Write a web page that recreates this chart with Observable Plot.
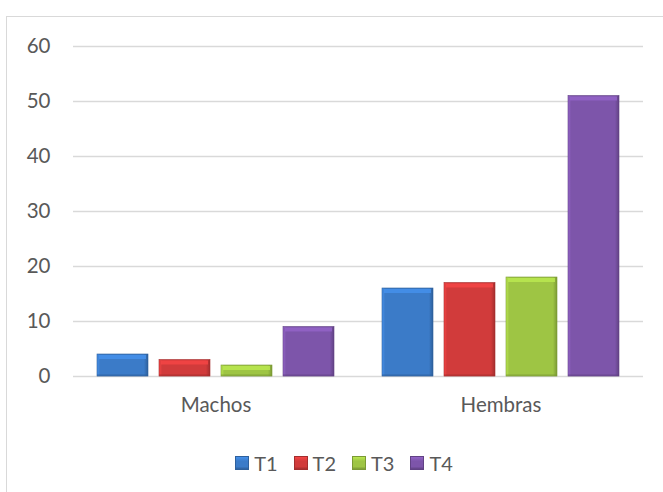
<!DOCTYPE html>
<html>
<head>
<meta charset="utf-8">
<script src="https://cdn.jsdelivr.net/npm/d3@7"></script>
<script src="https://cdn.jsdelivr.net/npm/@observablehq/plot@0.6"></script>
<style>
  html, body { margin: 0; padding: 0; background: #fff; width: 663px; height: 492px; overflow: hidden; }
  #frame { position: absolute; left: 6px; top: 16px; width: 720px; height: 520px; border: 1px solid #d9d9d9; box-sizing: border-box; }
  #chart { position: absolute; left: 0; top: 0; }
  #legend { position: absolute; left: 0; width: 688px; top: 449px; text-align: center; font-family: Lato, "Liberation Sans", sans-serif; font-size: 20px; line-height: 26px; color: #595959; }
  #legend .item { display: inline-flex; align-items: center; margin: 0 8px; }
  #legend .sw { display: inline-block; width: 14px; height: 14px; margin-right: 5px; box-sizing: border-box; }
</style>
</head>
<body>
<div id="frame"></div>
<div id="chart"></div>
<div id="legend"></div>
<script>
const categories = ["Machos", "Hembras"];
const series = ["T1", "T2", "T3", "T4"];
const machos = [4, 3, 2, 9];
const hembras = [16, 17, 18, 51];
const yTicks = [0, 10, 20, 30, 40, 50, 60];
const colors = ["#3b7bc8", "#d13b3b", "#9ec544", "#7d55aa"];

const valuesByCategory = [machos, hembras];
const data = categories.flatMap((c, i) =>
  series.map((s, j) => ({ category: c, series: s, value: valuesByCategory[i][j] }))
);

const lighter = c => d3.color(c).brighter(0.45).formatHex();
const darker = c => d3.color(c).darker(0.7).formatHex();

const marks = [
  Plot.gridY(yTicks, { stroke: "#d9d9d9", strokeOpacity: 1, strokeWidth: 1.3 })
];
series.forEach((s, j) => {
  const sub = data.filter(d => d.series === s);
  const col = colors[j];
  marks.push(
    Plot.barY(sub, { fx: "category", x: "series", y: "value", fill: `url(#grad-${s})`, stroke: darker(col), strokeWidth: 0.6 }),
    Plot.tickY(sub, { fx: "category", x: "series", y: "value", stroke: lighter(col), strokeWidth: 4, dy: 2.5, inset: 2, strokeOpacity: 0.85 }),
    Plot.tickY(sub, { fx: "category", x: "series", y: d => 0, stroke: darker(col), strokeWidth: 2, dy: -1.2, strokeOpacity: 0.45 })
  );
});

const chart = Plot.plot({
  width: 663,
  height: 430,
  marginLeft: 73,
  marginRight: 20,
  marginTop: 46,
  marginBottom: 54,
  style: { fontFamily: "Lato, 'Liberation Sans', sans-serif", fontSize: "20.5px", color: "#595959", background: "transparent", overflow: "visible" },
  fx: { domain: categories, padding: 0, label: null, tickSize: 0, tickPadding: 21, axis: "bottom" },
  x: { domain: series, axis: null, paddingInner: 0.18, paddingOuter: 0.38 },
  y: { domain: [0, 60], ticks: yTicks, label: null, tickSize: 0, tickPadding: 23 },
  marks
});

// gradients for beveled bars
const svg = d3.select(chart.tagName.toLowerCase() === "svg" ? chart : chart.querySelector("svg"));
const defs = svg.insert("defs", ":first-child");
series.forEach((s, j) => {
  const col = colors[j];
  const g = defs.append("linearGradient").attr("id", `grad-${s}`).attr("x1", 0).attr("x2", 1).attr("y1", 0).attr("y2", 0);
  g.append("stop").attr("offset", "0%").attr("stop-color", lighter(col));
  g.append("stop").attr("offset", "6%").attr("stop-color", col);
  g.append("stop").attr("offset", "92%").attr("stop-color", col);
  g.append("stop").attr("offset", "100%").attr("stop-color", darker(col));
});

document.getElementById("chart").appendChild(chart);

// legend
const legend = document.getElementById("legend");
series.forEach((s, j) => {
  const col = colors[j];
  const item = document.createElement("span");
  item.className = "item";
  const sw = document.createElement("span");
  sw.className = "sw";
  sw.style.background = `linear-gradient(180deg, ${lighter(col)} 0%, ${col} 35%, ${col} 80%, ${darker(col)} 100%)`;
  sw.style.border = `1px solid ${darker(col)}`;
  item.appendChild(sw);
  item.appendChild(document.createTextNode(s));
  legend.appendChild(item);
});
</script>
</body>
</html>
